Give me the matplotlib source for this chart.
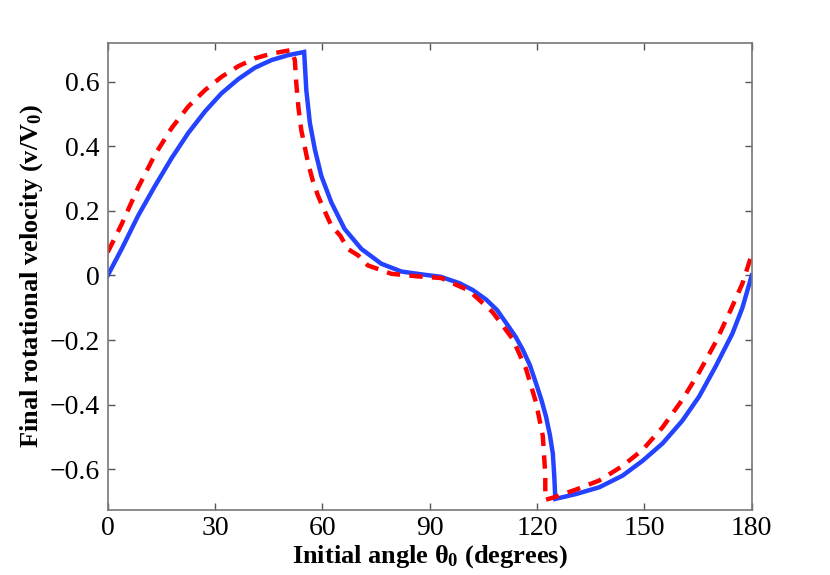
import matplotlib
matplotlib.use("Agg")
import matplotlib.pyplot as plt

plt.rcParams['font.family'] = ['Liberation Serif', 'DejaVu Serif']
plt.rcParams['mathtext.fontset'] = 'custom'
plt.rcParams['mathtext.rm'] = 'Liberation Serif:bold'
plt.rcParams['mathtext.it'] = 'Liberation Serif:bold'
plt.rcParams['mathtext.bf'] = 'Liberation Serif:bold'

# blue solid curve
theta_blue = [0, 3.9, 8.5, 13.2, 17.9, 22.5, 27.2, 31.8, 36.5, 41.1, 45.8,
              50.4, 54.9, 55.5, 56.5, 57.9, 59.7, 62.5, 66.2, 70.9, 76.5,
              82.1, 88.6, 93, 98.3, 102, 105.8, 108.8, 111.4, 114, 116, 118,
              119.7, 121.2, 122.5, 123.6, 124.4, 124.8, 125.1, 130.9, 137.4,
              143.9, 149.5, 155.1, 160.6, 165.3, 170, 174.6, 177.4, 180]
v_blue = [0.0, 0.082, 0.185, 0.277, 0.364, 0.441, 0.508, 0.564, 0.608, 0.643,
          0.667, 0.682, 0.692, 0.574, 0.472, 0.39, 0.308, 0.226, 0.144, 0.082,
          0.036, 0.012, 0.002, -0.004, -0.024, -0.045, -0.075, -0.107, -0.148,
          -0.19, -0.23, -0.278, -0.334, -0.385, -0.437, -0.495, -0.551, -0.62,
          -0.692, -0.677, -0.656, -0.62, -0.574, -0.52, -0.45, -0.375, -0.28,
          -0.18, -0.1, 0.0]

# red dashed curve
theta_red = [0, 3.9, 8.5, 13.2, 17.9, 22.5, 27.2, 31.8, 36.5, 41.1, 45.8,
             51.3, 52.3, 52.7, 53.3, 54.1, 56, 57.4, 58.8, 60, 62.5, 65, 67.1,
             70, 72.7, 79.3, 86.7, 93.2, 101, 107.6, 113.2, 116.9, 119.7,
             121.6, 122.3, 122.3, 124.5, 130.9, 137.4, 143.9, 149.5, 155.1,
             160.6, 165.3, 170, 174.2, 177.4, 180]
v_red = [0.072, 0.159, 0.272, 0.374, 0.457, 0.523, 0.574, 0.615, 0.648,
         0.672, 0.687, 0.698, 0.667, 0.595, 0.52, 0.45, 0.348, 0.29, 0.246,
         0.215, 0.154, 0.123, 0.082, 0.062, 0.031, 0.005, -0.003, -0.008,
         -0.047, -0.114, -0.197, -0.289, -0.393, -0.497, -0.617, -0.695,
         -0.688, -0.663, -0.635, -0.59, -0.54, -0.47, -0.385, -0.30, -0.205,
         -0.105, -0.025, 0.065]

xticks = [0, 30, 60, 90, 120, 150, 180]
yticks = [-0.6, -0.4, -0.2, 0, 0.2, 0.4, 0.6]
ytick_labels = ['\u22120.6', '\u22120.4', '\u22120.2', '0', '0.2', '0.4', '0.6']

fig = plt.figure(figsize=(8.3, 5.75), dpi=100)
ax = fig.add_axes([0.1298, 0.1130, 0.7759, 0.8129])

ax.plot(theta_blue, v_blue, color='#2343ff', lw=3.2, solid_joinstyle='miter')
ax.plot(theta_red, v_red, color='#ff0000', lw=3.2, ls=(0, (3.0, 2.1)))

ax.set_xlim(0, 180)
ax.set_ylim(-0.7265, 0.721)
ax.set_xticks(xticks)
ax.set_yticks(yticks)
ax.set_yticklabels(ytick_labels)
ax.tick_params(direction='in', length=5, width=1, color='#555555',
               labelsize=20, top=True, right=True, pad=6)
ax.tick_params(axis='x', pad=4)
for s in ax.spines.values():
    s.set_color('#777777')
    s.set_linewidth(1.2)

ax.set_xlabel(r'Initial angle $\theta_0$ (degrees)', fontsize=19,
              fontweight='bold', labelpad=2)
ax.set_ylabel(r'Final rotational velocity (v/V$_0$)', fontsize=19,
              fontweight='bold', labelpad=3)

fig.savefig('out.png', dpi=100)
